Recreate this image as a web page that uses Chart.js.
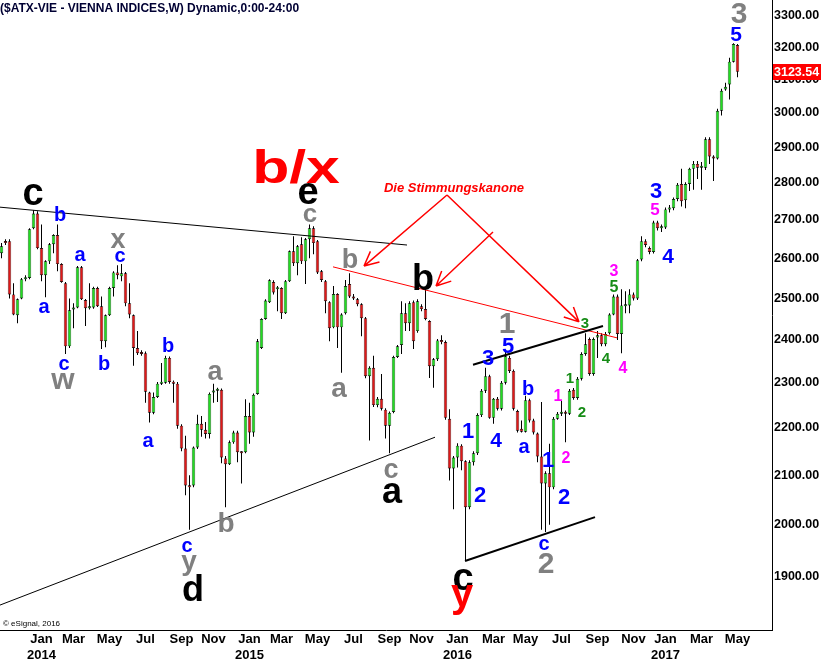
<!DOCTYPE html>
<html>
<head>
<meta charset="utf-8">
<script src="https://cdn.jsdelivr.net/npm/chart.js@4.4.1/dist/chart.umd.min.js"></script>
<style>
  html, body { margin: 0; padding: 0; background: #fff; }
  #wrap { width: 821px; height: 663px; }
</style>
</head>
<body>
<div id="wrap"><canvas id="atx" width="821" height="663"></canvas></div>
<script>
// weekly bars, first bar is the week starting Mon 21 Oct 2013
const firstMonday = Date.UTC(2013, 9, 21);

const opens = [
  2613, 2641, 2644, 2509, 2458, 2499, 2547, 2550, 2678, 2717,
  2626, 2557, 2592, 2636, 2660, 2585, 2537, 2384, 2472, 2477,
  2577, 2495, 2475, 2477, 2525, 2480, 2396, 2458, 2525, 2564,
  2554, 2562, 2487, 2458, 2380, 2368, 2368, 2278, 2233, 2268,
  2298, 2300, 2357, 2300, 2298, 2205, 2156, 2079, 2079, 2158,
  2209, 2196, 2187, 2278, 2282, 2284, 2135, 2123, 2169, 2190,
  2148, 2148, 2226, 2190, 2275, 2380, 2449, 2490, 2540, 2522,
  2525, 2463, 2542, 2618, 2587, 2636, 2592, 2649, 2678, 2644,
  2567, 2542, 2490, 2429, 2510, 2429, 2463, 2535, 2504, 2497,
  2485, 2451, 2315, 2334, 2250, 2264, 2240, 2205, 2235, 2359,
  2387, 2463, 2439, 2490, 2420, 2480, 2473, 2444, 2338, 2354,
  2396, 2394, 2220, 2114, 2137, 2162, 2129, 2035, 2127, 2146,
  2228, 2282, 2315, 2222, 2264, 2242, 2300, 2357, 2327, 2237,
  2198, 2192, 2261, 2216, 2188, 2139, 2083, 2104, 2075, 2220,
  2231, 2233, 2231, 2284, 2266, 2309, 2366, 2401, 2320, 2405,
  2410, 2389, 2415, 2460, 2504, 2413, 2480, 2482, 2509, 2499,
  2597, 2644, 2626, 2616, 2693, 2678, 2680, 2728, 2731, 2756,
  2797, 2753, 2797, 2839, 2853, 2842, 2842, 2923, 2874, 2868,
  3006, 3070, 3085, 3155, 3207
];
const highs = [
  2639, 2649, 2649, 2537, 2499, 2550, 2557, 2678, 2726, 2723,
  2688, 2595, 2639, 2662, 2688, 2587, 2540, 2499, 2487, 2580,
  2580, 2498, 2537, 2528, 2528, 2504, 2460, 2528, 2567, 2582,
  2585, 2565, 2537, 2460, 2420, 2375, 2372, 2280, 2278, 2302,
  2345, 2362, 2360, 2305, 2302, 2208, 2183, 2100, 2160, 2229,
  2226, 2213, 2278, 2298, 2289, 2287, 2140, 2173, 2194, 2194,
  2150, 2263, 2255, 2276, 2401, 2451, 2497, 2547, 2544, 2530,
  2527, 2545, 2620, 2657, 2634, 2654, 2652, 2688, 2683, 2647,
  2570, 2545, 2492, 2530, 2512, 2463, 2545, 2562, 2510, 2500,
  2487, 2454, 2338, 2362, 2268, 2320, 2243, 2236, 2362, 2387,
  2492, 2487, 2492, 2494, 2497, 2485, 2525, 2446, 2357, 2401,
  2410, 2398, 2241, 2140, 2167, 2165, 2131, 2131, 2150, 2232,
  2286, 2334, 2318, 2266, 2268, 2304, 2373, 2362, 2330, 2240,
  2216, 2271, 2264, 2220, 2190, 2257, 2108, 2166, 2224, 2235,
  2259, 2238, 2286, 2288, 2313, 2370, 2415, 2405, 2405, 2420,
  2415, 2418, 2463, 2509, 2509, 2522, 2517, 2522, 2514, 2598,
  2657, 2649, 2630, 2698, 2698, 2688, 2733, 2740, 2760, 2800,
  2839, 2802, 2842, 2861, 2861, 2858, 2929, 2929, 2877, 3012,
  3072, 3090, 3167, 3213, 3210
];
const lows = [
  2600, 2634, 2499, 2458, 2439, 2497, 2542, 2547, 2675, 2623,
  2542, 2502, 2585, 2613, 2567, 2538, 2366, 2380, 2427, 2475,
  2495, 2432, 2472, 2474, 2478, 2378, 2382, 2456, 2504, 2547,
  2542, 2480, 2451, 2339, 2364, 2362, 2255, 2212, 2230, 2266,
  2295, 2298, 2298, 2255, 2198, 2150, 2059, 1990, 2075, 2155,
  2181, 2177, 2177, 2255, 2257, 2125, 2035, 2121, 2166, 2127,
  2083, 2146, 2166, 2181, 2273, 2378, 2447, 2488, 2509, 2468,
  2449, 2461, 2540, 2580, 2557, 2585, 2535, 2600, 2610, 2560,
  2540, 2463, 2396, 2427, 2380, 2323, 2460, 2500, 2495, 2480,
  2408, 2310, 2173, 2246, 2245, 2238, 2177, 2146, 2232, 2357,
  2366, 2420, 2420, 2378, 2416, 2468, 2446, 2311, 2289, 2350,
  2389, 2218, 2089, 2031, 2116, 2110, 1932, 2031, 2120, 2142,
  2224, 2277, 2220, 2209, 2238, 2238, 2296, 2322, 2238, 2190,
  2190, 2190, 2212, 2186, 2127, 1990, 1986, 2000, 2071, 2218,
  2226, 2169, 2228, 2262, 2262, 2305, 2362, 2316, 2316, 2357,
  2384, 2384, 2412, 2458, 2399, 2368, 2463, 2463, 2494, 2495,
  2592, 2628, 2610, 2612, 2672, 2668, 2676, 2720, 2726, 2750,
  2736, 2731, 2778, 2781, 2811, 2781, 2836, 2853, 2805, 2865,
  2992, 3066, 3040, 3152, 3107
];
const closes = [
  2631, 2639, 2509, 2460, 2497, 2547, 2550, 2675, 2717, 2626,
  2557, 2592, 2636, 2660, 2585, 2540, 2384, 2470, 2476, 2577,
  2497, 2475, 2478, 2525, 2480, 2396, 2458, 2525, 2564, 2557,
  2562, 2487, 2460, 2380, 2368, 2366, 2280, 2233, 2268, 2298,
  2300, 2357, 2302, 2298, 2205, 2156, 2079, 2075, 2158, 2209,
  2196, 2187, 2275, 2282, 2284, 2137, 2123, 2169, 2190, 2148,
  2146, 2226, 2190, 2273, 2396, 2449, 2494, 2544, 2514, 2527,
  2463, 2542, 2618, 2587, 2631, 2592, 2649, 2678, 2639, 2564,
  2545, 2492, 2427, 2510, 2429, 2460, 2530, 2504, 2499, 2485,
  2451, 2315, 2334, 2250, 2264, 2242, 2205, 2233, 2359, 2384,
  2463, 2439, 2487, 2396, 2492, 2473, 2449, 2338, 2354, 2398,
  2394, 2222, 2114, 2137, 2162, 2129, 2035, 2127, 2146, 2228,
  2282, 2315, 2222, 2264, 2242, 2300, 2361, 2327, 2242, 2194,
  2192, 2261, 2216, 2190, 2139, 2083, 2104, 2075, 2220, 2231,
  2233, 2231, 2282, 2266, 2309, 2366, 2389, 2320, 2401, 2410,
  2389, 2413, 2460, 2504, 2413, 2482, 2482, 2509, 2499, 2595,
  2644, 2634, 2616, 2693, 2678, 2680, 2728, 2731, 2756, 2795,
  2750, 2797, 2839, 2853, 2842, 2845, 2923, 2874, 2868, 3006,
  3066, 3078, 3155, 3210, 3123.54
];

const priceTicks = [1900, 2000, 2100, 2200, 2300, 2400, 2500, 2600, 2700, 2800, 2900, 3000, 3100, 3200, 3300];
const lastPrice = 3123.54;
const monthNames = ['Jan', 'Feb', 'Mar', 'Apr', 'May', 'Jun', 'Jul', 'Aug', 'Sep', 'Oct', 'Nov', 'Dec'];

// wave count labels: text, week index, price (baseline), colour, size, horizontal stretch
const BLUE = '#0000ff', GREY = '#808080', PINK = '#ff00ff', GREEN = '#168c16', RED = '#ff0000', BLACK = '#000000';
const waveLabels = [
  ['c', 7.875, 2740, BLACK, 38], ['b', 14.625, 2697, BLUE, 20], ['a', 10.625, 2464, BLUE, 20],
  ['a', 19.625, 2593, BLUE, 20], ['x', 29.125, 2626, GREY, 27], ['c', 29.625, 2590, BLUE, 20],
  ['c', 15.625, 2329, BLUE, 20], ['w', 15.375, 2286, GREY, 30], ['b', 25.625, 2329, BLUE, 20],
  ['b', 41.625, 2371, BLUE, 20], ['a', 36.625, 2159, BLUE, 20], ['a', 53.375, 2306, GREY, 27],
  ['c', 46.375, 1947, BLUE, 20], ['y', 46.875, 1913, GREY, 28], ['d', 47.875, 1855, BLACK, 36],
  ['b', 56.125, 1986, GREY, 28], ['b/x', 73.625, 2800, RED, 46, 1.32], ['e', 76.625, 2743, BLACK, 38],
  ['c', 77.125, 2694, GREY, 26], ['b', 87.125, 2575, GREY, 27], ['a', 84.375, 2268, GREY, 28],
  ['b', 105.375, 2520, BLACK, 36], ['c', 97.375, 2094, GREY, 27], ['a', 97.625, 2043, BLACK, 36],
  ['1', 126.375, 2416, GREY, 30], ['3', 121.625, 2341, BLUE, 22], ['5', 126.625, 2368, BLUE, 22],
  ['1', 116.625, 2178, BLUE, 22], ['4', 123.625, 2159, BLUE, 21], ['2', 119.625, 2045, BLUE, 22],
  ['b', 131.625, 2273, BLUE, 20], ['a', 130.625, 2146, BLUE, 20], ['1', 136.625, 2117, BLUE, 22],
  ['2', 140.625, 2041, BLUE, 22], ['c', 115.375, 1876, BLACK, 38], ['y', 115.125, 1845, RED, 40],
  ['c', 135.625, 1951, BLUE, 20], ['2', 136.125, 1907, GREY, 30], ['1', 139.125, 2259, PINK, 16],
  ['2', 141.125, 2125, PINK, 16], ['1', 142.125, 2300, GREEN, 15], ['2', 145.125, 2224, GREEN, 15],
  ['3', 145.875, 2427, GREEN, 15], ['4', 151.125, 2345, GREEN, 15], ['3', 153.125, 2555, PINK, 16],
  ['5', 153.125, 2515, GREEN, 16], ['4', 155.375, 2322, PINK, 16], ['3', 163.625, 2759, BLUE, 22],
  ['5', 163.375, 2713, PINK, 17], ['4', 166.625, 2588, BLUE, 21], ['3', 184.375, 3277, GREY, 30],
  ['5', 183.625, 3220, BLUE, 21]
];
const noteText = ['Die Stimmungskanone', 113.125, 2775];

// trend lines: [week, price] -> [week, price], colour, width
const trendLines = [
  [[-0.375, 2734], [101.375, 2634], BLACK, 1],
  [[-0.375, 1848], [108.375, 2180], BLACK, 1],
  [[82.875, 2578], [153.875, 2404], RED, 1],
  [[117.875, 2341], [150.375, 2432], BLACK, 2],
  [[115.875, 1930], [148.375, 2015], BLACK, 2]
];
const arrows = [
  [[111.375, 2767], [90.625, 2580]],
  [[111.375, 2767], [144.375, 2442]],
  [[122.875, 2668], [108.625, 2530]]
];

const FONT = '"Liberation Sans", Arial, sans-serif';
const DAY = 86400000;

const monthTicks = [];
closes.forEach((_, i) => {
  const d = new Date(firstMonday + i * 7 * DAY);
  const end = new Date(d.getTime() + 6 * DAY);
  let m = null;
  if (d.getUTCDate() === 1) m = d;
  else if (end.getUTCMonth() !== d.getUTCMonth()) m = end;
  // the first label on the chart is Jan 2014
  if (m && i > 4 && m.getUTCMonth() % 2 === 0) {
    monthTicks.push({ value: i, month: m.getUTCMonth(), year: m.getUTCFullYear() });
  }
});

const bodies = opens.map((o, i) => ({ x: i, y: [o, closes[i]] }));
const wicks = opens.map((o, i) => ({ x: i, y: [lows[i], highs[i]] }));
const bodyColors = opens.map((o, i) => closes[i] >= o ? '#22dd22' : '#e01818');

const noPad = s => { s.paddingTop = 0; s.paddingBottom = 0; s.paddingLeft = 0; s.paddingRight = 0; };

const wavePlugin = {
  id: 'waves',
  afterDatasetsDraw(chart) {
    const { ctx, scales: { x, y } } = chart;
    const px = p => [x.getPixelForValue(p[0]), y.getPixelForValue(p[1])];
    ctx.save();
    trendLines.forEach(([a, b, color, w]) => {
      const [x1, y1] = px(a), [x2, y2] = px(b);
      ctx.strokeStyle = color;
      ctx.lineWidth = w;
      ctx.beginPath();
      ctx.moveTo(x1, y1);
      ctx.lineTo(x2, y2);
      ctx.stroke();
    });
    ctx.strokeStyle = RED;
    ctx.lineWidth = 1.5;
    arrows.forEach(([a, b]) => {
      const [x1, y1] = px(a), [x2, y2] = px(b);
      const ang = Math.atan2(y2 - y1, x2 - x1);
      ctx.beginPath();
      ctx.moveTo(x1, y1);
      ctx.lineTo(x2, y2);
      [0.45, -0.45].forEach(d => {
        ctx.moveTo(x2, y2);
        ctx.lineTo(x2 - 16 * Math.cos(ang + d), y2 - 16 * Math.sin(ang + d));
      });
      ctx.stroke();
    });
    ctx.textAlign = 'center';
    ctx.textBaseline = 'alphabetic';
    waveLabels.forEach(([t, i, p, color, size, stretch]) => {
      ctx.font = 'bold ' + size + 'px ' + FONT;
      ctx.fillStyle = color;
      const [lx, ly] = px([i, p]);
      if (stretch) {
        ctx.save();
        ctx.translate(lx, ly);
        ctx.scale(stretch, 1);
        ctx.fillText(t, 0, 0);
        ctx.restore();
      } else {
        ctx.fillText(t, lx, ly);
      }
    });
    ctx.font = 'italic bold 13px ' + FONT;
    ctx.fillStyle = RED;
    ctx.fillText(noteText[0], x.getPixelForValue(noteText[1]), y.getPixelForValue(noteText[2]));
    ctx.restore();
  },
  afterDraw(chart) {
    const { ctx, chartArea, scales: { y } } = chart;
    ctx.save();
    ctx.textAlign = 'left';
    ctx.textBaseline = 'alphabetic';
    ctx.fillStyle = '#000033';
    ctx.font = 'bold 12px ' + FONT;
    ctx.fillText('($ATX-VIE - VIENNA INDICES,W) Dynamic,0:00-24:00', 0, 12);
    ctx.fillStyle = '#000';
    ctx.font = '8px ' + FONT;
    ctx.fillText('\u00a9 eSignal, 2016', 3, 626);
    const ty = y.getPixelForValue(lastPrice);
    ctx.fillStyle = '#ff0000';
    ctx.fillRect(chartArea.right + 1, Math.round(ty) - 8, 48, 16);
    ctx.fillStyle = '#fff';
    ctx.font = 'bold 12.5px ' + FONT;
    ctx.textBaseline = 'middle';
    ctx.fillText(lastPrice.toFixed(2), chartArea.right + 2, ty + 1);
    ctx.restore();
  }
};

new Chart(document.getElementById('atx'), {
  type: 'bar',
  data: {
    datasets: [
      {
        label: 'body',
        data: bodies,
        backgroundColor: bodyColors,
        borderColor: '#000',
        borderWidth: 0.7,
        borderSkipped: false,
        barThickness: 3.4,
        minBarLength: 2,
        inflateAmount: 0,
        grouped: false,
        order: 0
      },
      {
        label: 'wick',
        data: wicks,
        backgroundColor: '#000',
        borderWidth: 0,
        barThickness: 1,
        inflateAmount: 0,
        grouped: false,
        order: 1
      }
    ]
  },
  options: {
    responsive: false,
    animation: false,
    devicePixelRatio: 1,
    layout: { padding: 0 },
    plugins: { legend: { display: false }, tooltip: { enabled: false } },
    scales: {
      x: {
        type: 'linear',
        min: -0.375,
        max: 192.625,
        bounds: 'data',
        offset: false,
        grid: { display: false, drawTicks: false, tickLength: 0 },
        border: { display: true, color: '#000', width: 1 },
        ticks: {
          autoSkip: false,
          maxRotation: 0,
          padding: 2,
          color: '#000',
          font: { family: FONT, size: 13, weight: 'bold' },
          callback: (value) => {
            const t = monthTicks.find(m => m.value === value);
            if (!t) return '';
            return t.month === 0 ? [monthNames[0], String(t.year)] : monthNames[t.month];
          }
        },
        afterBuildTicks: s => { s.ticks = monthTicks.map(m => ({ value: m.value })); },
        afterFit: s => { s.height = 33; noPad(s); }
      },
      y: {
        type: 'logarithmic',
        position: 'right',
        min: 1803.2,
        max: 3352.4,
        bounds: 'data',
        grid: { display: false, drawTicks: false, tickLength: 0 },
        border: { display: true, color: '#000', width: 1 },
        ticks: {
          padding: 2,
          color: '#000',
          font: { family: FONT, size: 12.5, weight: 'bold' },
          callback: v => Number(v).toFixed(2)
        },
        afterBuildTicks: s => { s.ticks = priceTicks.map(v => ({ value: v })); },
        afterFit: s => { s.width = 49; noPad(s); }
      }
    }
  },
  plugins: [wavePlugin]
});
</script>
</body>
</html>
